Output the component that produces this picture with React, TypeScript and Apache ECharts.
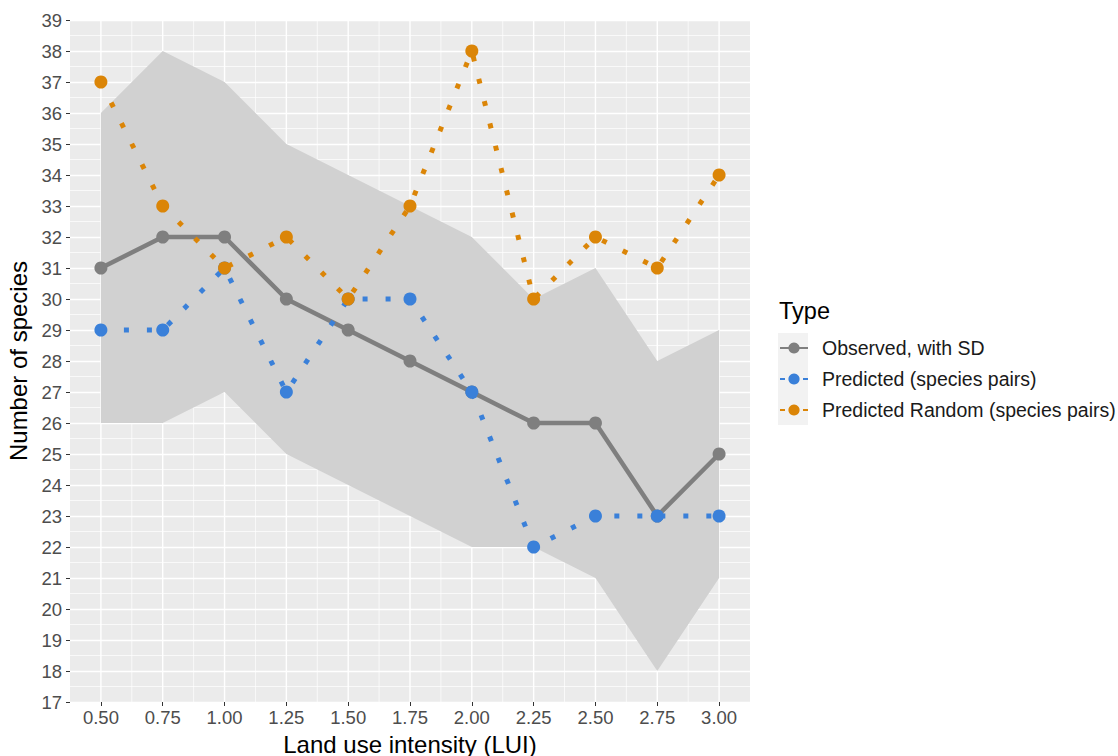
import React, { useEffect, useRef } from "react";
import * as echarts from "echarts";

// Land use intensity levels
const lui = [0.5, 0.75, 1.0, 1.25, 1.5, 1.75, 2.0, 2.25, 2.5, 2.75, 3.0];

// Observed species number with SD band
const observed = [31, 32, 32, 30, 29, 28, 27, 26, 26, 23, 25];
const sdUpper = [36, 38, 37, 35, 34, 33, 32, 30, 31, 28, 29];
const sdLower = [26, 26, 27, 25, 24, 23, 22, 22, 21, 18, 21];

// Predictions
const predictedPairs = [29, 29, 31, 27, 30, 30, 27, 22, 23, 23, 23];
const predictedRandom = [37, 33, 31, 32, 30, 33, 38, 30, 32, 31, 34];

// Axis breaks
const xMajor = [0.5, 0.75, 1.0, 1.25, 1.5, 1.75, 2.0, 2.25, 2.5, 2.75, 3.0];
const xMinor = [0.625, 0.875, 1.125, 1.375, 1.625, 1.875, 2.125, 2.375, 2.625, 2.875];

const seriesNames = [
  "Observed, with SD",
  "Predicted (species pairs)",
  "Predicted Random (species pairs)",
];

const GREY = "#7F7F7F";
const BLUE = "#3A80D9";
const ORANGE = "#DB8507";
const BAND = "#D1D1D1";
const FONT = "Liberation Sans, Arial, sans-serif";

const pairs = (ys: number[]) => lui.map((x, i) => [x, ys[i]]);

// vertical panel grid lines at the given x breaks
const vLines = (values: number[], width: number, z: number) => ({
  type: "custom",
  silent: true,
  z,
  data: values.map((v) => [v, 17]),
  renderItem: (_params: any, api: any) => {
    const top = api.coord([api.value(0), 39]);
    const bottom = api.coord([api.value(0), 17]);
    return {
      type: "line",
      shape: { x1: top[0], y1: top[1], x2: bottom[0], y2: bottom[1] },
      style: { stroke: "#FFFFFF", lineWidth: width },
    };
  },
});

// SD ribbon: one polygon through the upper bounds and back along the lower bounds
const ribbon = {
  type: "custom",
  silent: true,
  z: 2,
  data: lui.map((x, i) => [x, sdLower[i], sdUpper[i]]),
  renderItem: (params: any, api: any) => {
    if (params.dataIndex !== 0) return null;
    const upperPts = lui.map((x, i) => api.coord([x, sdUpper[i]]));
    const lowerPts = lui.map((x, i) => api.coord([x, sdLower[i]])).reverse();
    return {
      type: "polygon",
      shape: { points: upperPts.concat(lowerPts) },
      style: { fill: BAND },
    };
  },
};

export default function App() {
  const ref = useRef<HTMLDivElement>(null);

  useEffect(() => {
    if (!ref.current) return;
    const chart = echarts.init(ref.current, undefined, { renderer: "svg" });

    const option: any = {
      animation: false,
      textStyle: { fontFamily: FONT },
      grid: {
        left: 70,
        right: 368,
        top: 20,
        bottom: 54,
        show: true,
        backgroundColor: "#EBEBEB",
        borderWidth: 0,
        containLabel: false,
        outerBoundsMode: "none",
      },
      xAxis: {
        type: "value",
        min: 0.375,
        max: 3.125,
        name: "Land use intensity (LUI)",
        nameLocation: "middle",
        nameGap: 30,
        nameTextStyle: { fontSize: 24, color: "#000000", fontFamily: FONT },
        axisLine: { show: false },
        axisTick: {
          show: true,
          length: 4,
          customValues: xMajor,
          lineStyle: { color: "#333333", width: 1 },
        },
        axisLabel: {
          customValues: xMajor,
          fontSize: 18.5,
          color: "#4D4D4D",
          margin: 6,
          fontFamily: FONT,
          formatter: (v: number) => v.toFixed(2),
        },
        splitLine: { show: false },
      },
      yAxis: {
        type: "value",
        min: 17,
        max: 39,
        interval: 1,
        name: "Number of species",
        nameLocation: "middle",
        nameGap: 38,
        nameTextStyle: { fontSize: 24, color: "#000000", fontFamily: FONT },
        axisLine: { show: false },
        axisTick: { show: true, length: 4, lineStyle: { color: "#333333", width: 1 } },
        axisLabel: { fontSize: 18.5, color: "#4D4D4D", margin: 8, fontFamily: FONT },
        splitLine: { show: true, lineStyle: { color: "#FFFFFF", width: 1.4 } },
        minorTick: { show: false, splitNumber: 2 },
        minorSplitLine: { show: true, lineStyle: { color: "#FFFFFF", width: 0.7 } },
      },
      legend: {
        orient: "vertical",
        left: 774,
        top: 333,
        itemWidth: 28,
        itemHeight: 14,
        itemGap: 11,
        data: seriesNames,
        textStyle: {
          fontSize: 19.5,
          lineHeight: 20,
          color: "#1A1A1A",
          fontFamily: FONT,
          padding: [0, 0, 0, 9],
        },
      },
      graphic: [
        {
          type: "text",
          left: 779,
          top: 299,
          style: { text: "Type", fontSize: 23.5, fill: "#000000", fontFamily: FONT },
        },
        {
          type: "rect",
          left: 778,
          top: 333,
          shape: { width: 30, height: 92 },
          style: { fill: "#F2F2F2" },
          z: -1,
        },
      ],
      series: [
        vLines(xMinor, 0.7, 1),
        vLines(xMajor, 1.4, 1),
        ribbon,
        {
          name: seriesNames[0],
          type: "line",
          z: 3,
          data: pairs(observed),
          symbol: "circle",
          symbolSize: 13,
          itemStyle: { color: GREY },
          lineStyle: { color: GREY, width: 4.5 },
        },
        {
          name: seriesNames[1],
          type: "line",
          z: 4,
          data: pairs(predictedPairs),
          symbol: "circle",
          symbolSize: 13,
          itemStyle: { color: BLUE },
          lineStyle: { color: BLUE, width: 5, type: [5, 18], cap: "butt" },
        },
        {
          name: seriesNames[2],
          type: "line",
          z: 5,
          data: pairs(predictedRandom),
          symbol: "circle",
          symbolSize: 13,
          itemStyle: { color: ORANGE },
          lineStyle: { color: ORANGE, width: 5, type: [5, 18], cap: "butt" },
        },
      ],
    };

    chart.setOption(option);
    return () => chart.dispose();
  }, []);

  return (
    <div
      ref={ref}
      style={{ position: "fixed", left: 0, top: 0, width: 1118, height: 756, background: "#FFFFFF" }}
    />
  );
}
